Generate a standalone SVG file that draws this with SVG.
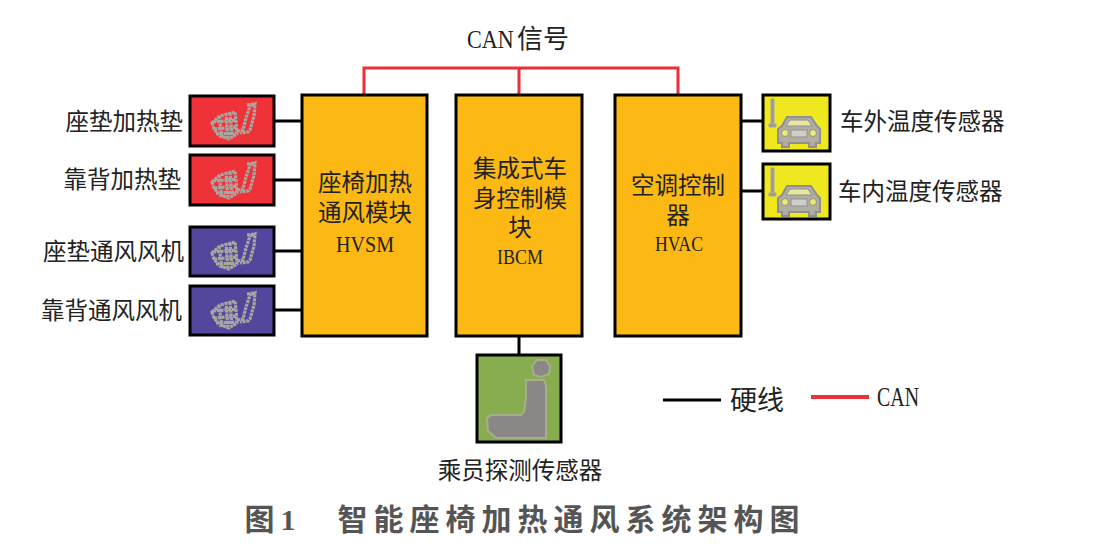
<svg xmlns="http://www.w3.org/2000/svg" width="1104" height="548" viewBox="0 0 1104 548">
<style>
text{font-family:"Liberation Serif","Noto Sans CJK SC",serif;fill:#222}
.lab{font-size:23.5px}
.ctl{font-size:23.5px;text-anchor:middle}
.box{stroke:#000;stroke-width:3}
.org{fill:#fdb913}
.hw{stroke:#000;stroke-width:3;fill:none}
.can{stroke:#ed2f39;stroke-width:3;fill:none}
.ic{fill:none;stroke:#a9a5a0;stroke-width:3.2;stroke-dasharray:3 .8}
</style>
<defs>
<g id="seatwave">
<path class="ic" d="M212 123l8-7 8-2 7-2 1 9 1 13-8 5-9-3-6-7zM219 116l3 22M226 113l2 26M230 113l2 24M213 122l23-2M214 129l23-2M216 134l20-1M237 131l6-1 3-12 4-12 5-2-1 12-4 14-2 2-8 1M247 105l8-1"/>
</g>
<g id="car">
<path d="M771 99h3v25h-3zM769 124h7v3h-7z" fill="#9a97a0" stroke="#a9a5a0"/>
<path d="M782 126l5-9h24l6 9 3 3v14h-4v4h-7v-4h-20v4h-7v-4h-4v-14z" fill="#b0aea0" stroke="#8f8f95" stroke-width="2"/>
<path d="M786 126l4-6h18l4 6z" fill="#e8e6a0" stroke="#8f8f95"/>
<circle cx="785" cy="133" r="3.5" fill="#eeea70" stroke="#8f8f95"/><circle cx="813" cy="133" r="3.5" fill="#eeea70" stroke="#8f8f95"/>
<rect x="791" y="130" width="16" height="7" fill="#cfcfc8" stroke="#8f8f95"/>
</g>
</defs>
<g id="connectors">
<path class="hw" d="M275 121H302M275 180H302M275 251H302M275 310H302M741 121H763M741 191H763M519 335V355"/>
<path class="can" d="M364 95V68H678V95M519 68V95"/>
<path d="M663 400H721" stroke="#000" stroke-width="3"/>
<path d="M811 397H869" stroke="#ed2f39" stroke-width="4"/>
</g>
<g id="can-label"><text transform="translate(467 48) scale(.85 1)" font-size="26">CAN</text><text x="517" y="48" font-size="26">信号</text></g>
<g id="hvsm"><rect class="box org" x="302" y="95" width="125" height="241"/>
<text class="ctl" x="365" y="191">座椅加热</text><text class="ctl" x="365" y="221">通风模块</text><text class="ctl" x="365" y="252" style="font-size:24px" textLength="58" lengthAdjust="spacingAndGlyphs">HVSM</text></g>
<g id="ibcm"><rect class="box org" x="456" y="95" width="126" height="241"/>
<text class="ctl" x="520" y="177">集成式车</text><text class="ctl" x="520" y="207">身控制模</text><text class="ctl" x="520" y="236">块</text><text class="ctl" x="520" y="264" style="font-size:21px" textLength="46" lengthAdjust="spacingAndGlyphs">IBCM</text></g>
<g id="hvac"><rect class="box org" x="615" y="95" width="126" height="241"/>
<text class="ctl" x="678" y="194">空调控制</text><text class="ctl" x="678" y="224">器</text><text class="ctl" x="679" y="251" style="font-size:21px" textLength="48" lengthAdjust="spacingAndGlyphs">HVAC</text></g>
<g id="seat-heat"><rect class="box" fill="#ee3237" x="190" y="96" width="84" height="50"/><use href="#seatwave"/><text class="lab" x="183" y="130" text-anchor="end">座垫加热垫</text></g>
<g id="back-heat"><rect class="box" fill="#ee3237" x="190" y="155" width="84" height="50"/><use href="#seatwave" y="59"/><text class="lab" x="181" y="188" text-anchor="end">靠背加热垫</text></g>
<g id="seat-fan"><rect class="box" fill="#52479c" x="190" y="227" width="84" height="49"/><use href="#seatwave" y="130"/><text class="lab" x="184" y="260" text-anchor="end">座垫通风风机</text></g>
<g id="back-fan"><rect class="box" fill="#52479c" x="190" y="286" width="84" height="49"/><use href="#seatwave" y="189"/><text class="lab" x="182" y="319" text-anchor="end">靠背通风风机</text></g>
<g id="out-temp"><rect class="box" fill="#f0e81e" x="763" y="95" width="67" height="56"/><use href="#car"/><text class="lab" x="840" y="130">车外温度传感器</text></g>
<g id="in-temp"><rect class="box" fill="#f0e81e" x="763" y="164" width="67" height="55"/><use href="#car" y="69"/><text class="lab" x="838" y="200">车内温度传感器</text></g>
<g id="occupant"><rect class="box" fill="#87ad4f" x="477" y="355" width="84" height="87"/>
<path d="M532 366l5-6h9l4 6-1 8-8 3-7-2zM526 380h18l2 6 0 52h-50l-8-7-1-13 4-3h30l3-3 2-14z" fill="#8a8785" stroke="#a8ad90" stroke-width="2"/>
<text x="520" y="479" font-size="23.5" text-anchor="middle">乘员探测传感器</text></g>
<g id="legend"><text x="730" y="410" font-size="27">硬线</text><text x="877" y="406" font-size="27" textLength="42" lengthAdjust="spacingAndGlyphs">CAN</text></g>
<g id="caption"><text x="525" y="530" font-size="30" font-weight="700" text-anchor="middle" letter-spacing="6" style="fill:#555">图1　智能座椅加热通风系统架构图</text></g>
</svg>
